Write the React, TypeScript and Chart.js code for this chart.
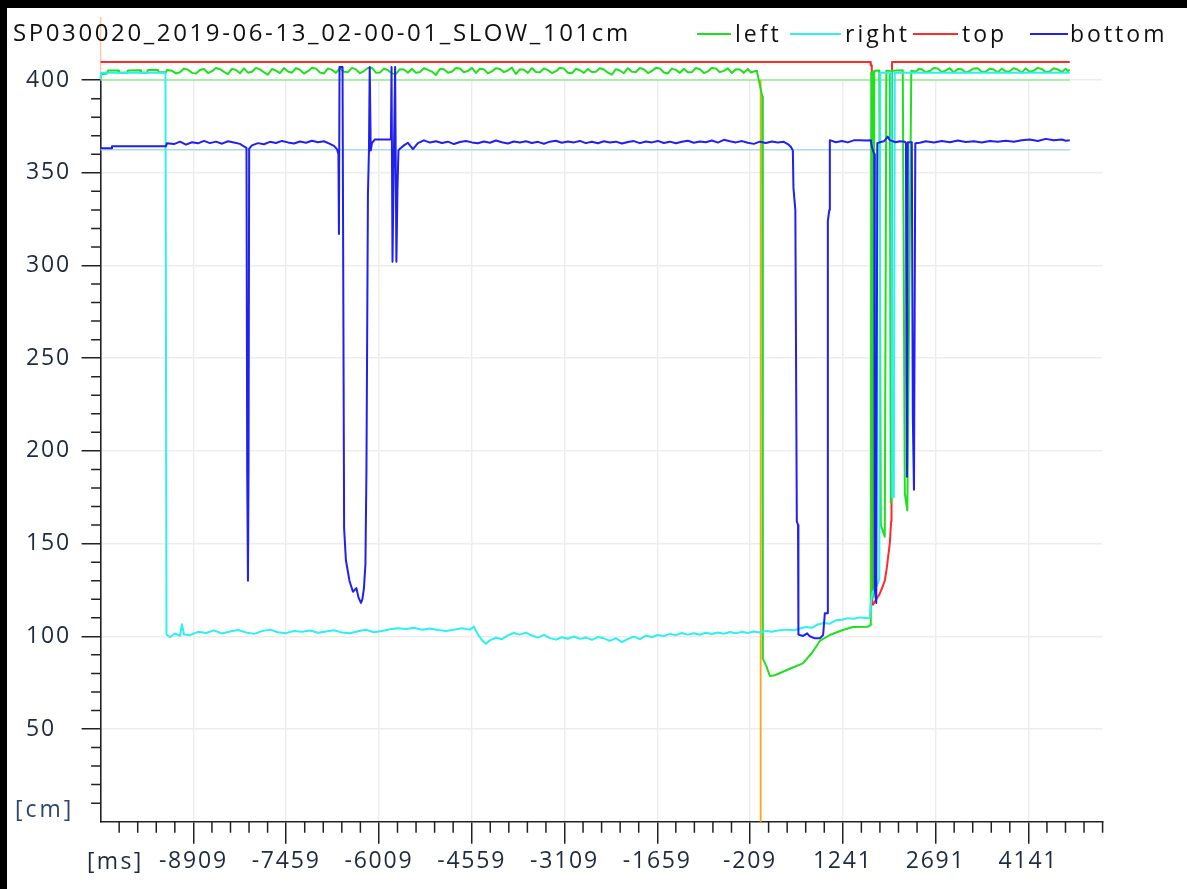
import React, { useEffect, useRef } from 'react';
import { Chart, registerables } from 'chart.js';

Chart.register(...registerables);

// ---------- data (time in ms, distance in cm) ----------
const chartTitle = 'SP030020_2019-06-13_02-00-01_SLOW_101cm';
const seriesNames = ['left', 'right', 'top', 'bottom'];

const xMin = -10359;
const xMax = 5301;
const xTickValues = [-8909, -7459, -6009, -4559, -3109, -1659, -209, 1241, 2691, 4141];
const xTickLabels = ['-8909', '-7459', '-6009', '-4559', '-3109', '-1659', '-209', '1241', '2691', '4141'];
const yTickValues = [50, 100, 150, 200, 250, 300, 350, 400];
const yTickLabels = ['50', '100', '150', '200', '250', '300', '350', '400'];
const xUnit = '[ms]';
const yUnit = '[cm]';

const leftData: [number, number][] = [
  [-10359, 401], [-10345, 403.2], [-10259, 403.5], [-10243, 405.2], [-10087, 405.2], [-10072, 404],
  [-9947, 404], [-9931, 405.2], [-9743, 405.3], [-9728, 404], [-9634, 404], [-9618, 405.5],
  [-9462, 405.4], [-9447, 404.2], [-9337, 404.2], [-9322, 405.5],
  [-9243, 405.0], [-9181, 403.6], [-9118, 404.2], [-9056, 406.2], [-8993, 405.6], [-8931, 403.9],
  [-8868, 403.5], [-8806, 405.4], [-8743, 406.0], [-8681, 403.8], [-8618, 404.8], [-8556, 406.5],
  [-8493, 405.9], [-8431, 404.4], [-8368, 403.2], [-8306, 406.1], [-8243, 405.4], [-8181, 403.7],
  [-8118, 406.3], [-8056, 404.0], [-7993, 404.5], [-7931, 406.6], [-7868, 405.8], [-7806, 404.2],
  [-7743, 402.9], [-7681, 406.0], [-7618, 405.1], [-7556, 403.8], [-7493, 406.5], [-7431, 404.6],
  [-7368, 404.0], [-7306, 406.4], [-7243, 405.6], [-7181, 403.5], [-7118, 404.8], [-7056, 406.7],
  [-6993, 406.2], [-6931, 404.1], [-6868, 403.6], [-6806, 406.3], [-6743, 405.5], [-6681, 403.9],
  [-6618, 406.4], [-6556, 404.5], [-6493, 404.3], [-6431, 406.6], [-6368, 405.8], [-6306, 403.7],
  [-6243, 404.9], [-6181, 406.5], [-6118, 406.6], [-6056, 404.0], [-5993, 404.1], [-5931, 406.2],
  [-5868, 405.3], [-5806, 403.6], [-5743, 403.4], [-5681, 405.9], [-5618, 405.7], [-5556, 404.0],
  [-5493, 406.1], [-5431, 403.9], [-5368, 404.4], [-5306, 406.4], [-5243, 405.5], [-5181, 404.6],
  [-5118, 402.8], [-5056, 406.0], [-4993, 405.9], [-4931, 404.0], [-4868, 404.6], [-4806, 406.5],
  [-4743, 406.3], [-4681, 404.2], [-4618, 405.0], [-4556, 406.6], [-4493, 403.9], [-4431, 406.1],
  [-4368, 405.8], [-4306, 403.6], [-4243, 404.7], [-4181, 406.4], [-4118, 406.0], [-4056, 404.3],
  [-3993, 405.2], [-3931, 406.7], [-3868, 403.3], [-3806, 405.8], [-3743, 405.6], [-3681, 403.9],
  [-3618, 406.5], [-3556, 404.4], [-3493, 404.2], [-3431, 406.3], [-3368, 405.4], [-3306, 403.8],
  [-3243, 404.8], [-3181, 406.6], [-3118, 406.2], [-3056, 404.0], [-2993, 403.7], [-2931, 406.1],
  [-2868, 405.3], [-2806, 403.9], [-2743, 406.0], [-2681, 404.4], [-2618, 404.5], [-2556, 406.4],
  [-2493, 405.7], [-2431, 404.0], [-2368, 402.9], [-2306, 405.9], [-2243, 405.2], [-2181, 403.7],
  [-2118, 406.4], [-2056, 404.5], [-1993, 404.4], [-1931, 406.5], [-1868, 405.8], [-1806, 403.8],
  [-1743, 404.9], [-1681, 406.6], [-1618, 406.3], [-1556, 404.1], [-1493, 403.6], [-1431, 406.2],
  [-1368, 405.5], [-1306, 403.9], [-1243, 406.1], [-1181, 404.2], [-1118, 404.3], [-1056, 406.5],
  [-993, 405.9], [-931, 403.8], [-868, 404.7], [-806, 406.6], [-743, 406.2], [-681, 404.3],
  [-618, 405.0], [-556, 406.4], [-493, 403.8], [-431, 405.9], [-368, 405.7], [-306, 403.9],
  [-243, 406.0], [-196, 404.1], [-150, 404.6], [-103, 405.0], [-72, 400], [-41, 395], [-17, 391],
  [-9, 88], [49, 83.6], [100, 78.6], [178, 79], [288, 80.6], [413, 82.5], [616, 85.4], [757, 91],
  [882, 97.5], [1038, 100.7], [1241, 103.4], [1397, 105], [1632, 105.2], [1671, 106], [1678, 120],
  [1686, 404], [1710, 404.5], [1717, 121], [1733, 405], [1811, 405.2], [1835, 160], [1897, 153.7],
  [1921, 405], [1975, 405], [1991, 172], [2007, 405], [2178, 405.3], [2210, 177], [2249, 168],
  [2311, 405], [2382, 404.5], [2428, 406.0], [2475, 405.8], [2537, 404.2], [2600, 404.9],
  [2662, 406.5], [2725, 406.3], [2787, 404.3], [2850, 405.2], [2912, 406.4], [2975, 404.1],
  [3037, 406.0], [3100, 405.9], [3162, 404.0], [3225, 405.0], [3287, 406.3], [3350, 406.4],
  [3412, 404.4], [3475, 404.6], [3537, 406.2], [3600, 405.7], [3662, 404.1], [3725, 406.2],
  [3787, 404.6], [3850, 404.8], [3912, 406.5], [3975, 405.6], [4037, 404.0], [4100, 406.3],
  [4162, 404.5], [4225, 405.1], [4287, 406.6], [4350, 406.0], [4412, 404.3], [4475, 404.7],
  [4537, 406.4], [4600, 405.8], [4662, 404.4], [4725, 406.1], [4756, 404.8], [4788, 405.5],
];

const rightData: [number, number][] = [
  [-10359, 400.5], [-10350, 403.9], [-9345, 403.9], [-9329, 101.0], [-9275, 99.5], [-9197, 101.5],
  [-9118, 100.2], [-9087, 106.5], [-9056, 101.0], [-8962, 100.6], [-8837, 102.4], [-8712, 101.8],
  [-8587, 103.2], [-8462, 101.5], [-8337, 102.6], [-8212, 103.4], [-8087, 102.1], [-7962, 101.3],
  [-7837, 102.8], [-7712, 103.6], [-7587, 102.2], [-7462, 101.7], [-7337, 102.9], [-7212, 102.4],
  [-7087, 103.1], [-6962, 101.9], [-6837, 102.6], [-6712, 103.3], [-6587, 102.0], [-6462, 101.6],
  [-6337, 102.7], [-6212, 103.5], [-6087, 102.2], [-5962, 102.9], [-5837, 103.8], [-5712, 104.4],
  [-5587, 103.9], [-5462, 104.6], [-5337, 103.5], [-5212, 104.2], [-5087, 103.4], [-4962, 102.8],
  [-4837, 103.5], [-4712, 104.3], [-4587, 103.6], [-4525, 105.2], [-4462, 101.0], [-4400, 98.0],
  [-4337, 96.0], [-4275, 97.8], [-4181, 99.2], [-4087, 98.4], [-3993, 100.5], [-3900, 101.8],
  [-3806, 100.9], [-3712, 102.0], [-3618, 100.4], [-3525, 99.3], [-3431, 100.8], [-3337, 99.0],
  [-3243, 98.2], [-3150, 99.5], [-3056, 98.7], [-2962, 99.9], [-2868, 98.6], [-2775, 99.4],
  [-2681, 98.1], [-2587, 99.6], [-2493, 98.9], [-2400, 97.5], [-2306, 99.0], [-2212, 96.8],
  [-2118, 98.6], [-2025, 99.8], [-1931, 98.5], [-1837, 100.3], [-1743, 99.6], [-1650, 100.7],
  [-1556, 100.1], [-1462, 101.3], [-1368, 100.6], [-1275, 101.8], [-1181, 100.9], [-1087, 101.6],
  [-993, 100.8], [-900, 101.9], [-806, 101.2], [-712, 102.0], [-618, 101.4], [-525, 102.3],
  [-431, 101.6], [-337, 102.4], [-243, 101.8], [-150, 102.6], [-56, 102.0], [38, 102.8],
  [131, 102.5], [225, 103.1], [350, 103.6], [475, 103.2], [569, 104.2], [663, 105.0],
  [757, 104.6], [850, 106.4], [944, 107.2], [1038, 106.8], [1132, 108.6], [1225, 108.9],
  [1319, 109.8], [1413, 109.5], [1507, 110.2], [1632, 109.8], [1663, 110.0], [1678, 118],
  [1710, 124], [1772, 127], [1811, 131], [1827, 404], [1999, 404], [2014, 175], [2038, 175],
  [2053, 404], [4788, 404],
];

const topData: [number, number][] = [
  [-10359, 409.8], [1671, 409.8], [1678, 408], [1694, 408], [1702, 117.5], [1714, 117],
  [1764, 120], [1819, 123], [1866, 127], [1897, 130], [1929, 137], [1949, 143], [1975, 150],
  [1996, 162], [2002, 176], [2010, 409.8], [4788, 409.8],
];

const bottomData: [number, number][] = [
  [-10359, 363.2], [-10189, 363.2], [-10181, 364.3], [-9337, 364.3], [-9322, 366], [-9212, 365.5],
  [-9118, 366.8], [-9025, 365.2], [-8931, 366.5], [-8837, 365.9], [-8743, 367.2], [-8650, 366.0],
  [-8556, 366.8], [-8462, 365.7], [-8368, 367.0], [-8275, 366.3], [-8181, 365.6], [-8118, 364.2],
  [-8079, 363.5], [-8068, 190], [-8056, 130], [-8047, 190], [-8037, 363], [-7993, 364.8],
  [-7900, 366.0], [-7806, 365.4], [-7712, 366.7], [-7618, 366.1], [-7525, 367.2], [-7431, 366.4],
  [-7337, 365.8], [-7243, 366.9], [-7150, 366.2], [-7056, 367.3], [-6962, 366.5], [-6868, 367.0],
  [-6775, 365.6], [-6712, 364.5], [-6665, 362.8], [-6642, 360], [-6634, 317], [-6625, 407],
  [-6578, 407], [-6553, 158], [-6525, 141], [-6470, 130], [-6415, 124], [-6361, 126], [-6329, 121],
  [-6290, 118], [-6267, 120], [-6243, 126], [-6220, 139], [-6204, 190], [-6181, 338], [-6165, 362],
  [-6153, 407], [-6137, 362], [-6118, 366], [-6072, 368], [-5822, 368], [-5812, 407], [-5797, 302],
  [-5781, 345], [-5756, 407], [-5736, 302], [-5720, 340], [-5704, 362], [-5681, 363], [-5618, 364.8],
  [-5556, 366.2], [-5478, 362.8], [-5400, 366.0], [-5306, 367.5], [-5212, 366.3], [-5118, 367.0],
  [-5025, 366.1], [-4931, 366.8], [-4837, 365.5], [-4743, 366.6], [-4650, 367.1], [-4556, 366.4],
  [-4462, 365.9], [-4368, 366.9], [-4275, 366.2], [-4181, 367.4], [-4087, 366.5], [-3993, 365.8],
  [-3900, 366.9], [-3806, 366.3], [-3712, 367.0], [-3618, 366.1], [-3525, 366.7], [-3431, 365.7],
  [-3337, 366.8], [-3243, 367.3], [-3150, 366.2], [-3056, 366.9], [-2962, 366.4], [-2868, 367.2],
  [-2775, 366.0], [-2681, 366.7], [-2587, 365.9], [-2493, 367.0], [-2400, 366.3], [-2306, 366.8],
  [-2212, 365.8], [-2118, 366.6], [-2025, 367.1], [-1931, 366.0], [-1837, 366.9], [-1743, 366.4],
  [-1650, 367.2], [-1556, 366.1], [-1462, 366.8], [-1368, 365.9], [-1275, 366.7], [-1181, 367.3],
  [-1087, 366.2], [-993, 366.9], [-900, 366.5], [-806, 367.4], [-712, 366.3], [-618, 367.8],
  [-525, 367.0], [-431, 366.4], [-337, 367.1], [-243, 366.2], [-150, 365.6], [-56, 366.8],
  [38, 366.1], [131, 366.9], [225, 366.3], [319, 366.7], [381, 365.5], [428, 364], [460, 362],
  [469, 342], [499, 330], [522, 162], [541, 160], [547, 101], [569, 100.7], [621, 100.2],
  [683, 101.6], [725, 100], [803, 98.9], [882, 98.9], [933, 100.7], [960, 112.4], [996, 112.4],
  [1007, 324], [1030, 330], [1038, 367.6], [1132, 366.5], [1225, 367.2], [1319, 366.4],
  [1413, 367.5], [1507, 367.5], [1600, 367.4], [1678, 367.6], [1694, 364], [1733, 360], [1741, 125],
  [1764, 118], [1780, 366], [1819, 366.5], [1882, 367.0], [1944, 369.5], [1975, 367.6], [2069, 366.5],
  [2132, 367], [2210, 366.8], [2228, 366], [2236, 240], [2244, 186], [2257, 366.5], [2319, 366.5],
  [2335, 218], [2353, 179], [2374, 366], [2444, 366.2], [2538, 367.0], [2663, 366.4], [2788, 367.2],
  [2913, 366.5], [3038, 367.4], [3163, 366.6], [3288, 367.0], [3413, 366.3], [3538, 367.2],
  [3663, 366.8], [3788, 367.3], [3913, 366.7], [4038, 367.5], [4163, 368.0], [4288, 367.2],
  [4413, 368.3], [4538, 367.6], [4663, 368.0], [4725, 367.3], [4788, 367.5],
];

const cursorData: [number, number][] = [[-43, 0], [-43, 400]];
const originCursorData: [number, number][] = [[-10359, 400], [-10359, 434]];
const leftRefData: [number, number][] = [[-10359, 400], [4788, 400]];
const bottomRefData: [number, number][] = [[-10359, 362.5], [4788, 362.5]];

// ---------- styles ----------
const COLORS: Record<string, string> = {
  left: '#1fe01f',
  right: '#2ef0f0',
  top: '#ff2a2a',
  bottom: '#2020f0',
};
const FONT = "'Open Sans', 'DejaVu Sans', sans-serif";
const AXIS_COLOR = '#222222';
const LABEL_COLOR = '#1e2a3e';

const toXY = (arr: [number, number][]) => arr.map(([x, y]) => ({ x, y }));

const decorPlugin = {
  id: 'decor',
  beforeDraw(chart: any) {
    const { ctx, width, height } = chart;
    ctx.save();
    ctx.fillStyle = '#000000';
    ctx.fillRect(0, 0, width, height);
    ctx.fillStyle = '#ffffff';
    ctx.fillRect(7, 8, width - 7, height - 8);
    ctx.restore();
    (ctx as any).letterSpacing = '1.8px';
  },
  afterDraw(chart: any) {
    const { ctx } = chart;
    const xs = chart.scales.x;
    const ys = chart.scales.y;
    ctx.save();
    // minor ticks
    ctx.strokeStyle = AXIS_COLOR;
    ctx.lineWidth = 1.5;
    ctx.beginPath();
    for (let v = 10; v < 400; v += 10) {
      if (v % 50 === 0) continue;
      const py = ys.getPixelForValue(v);
      ctx.moveTo(xs.left - 9.5, py);
      ctx.lineTo(xs.left, py);
    }
    for (let k = 1; k <= 54; k++) {
      if (k % 5 === 0 && k <= 50) continue;
      const px = xs.getPixelForValue(xMin + 290 * k);
      ctx.moveTo(px, ys.bottom);
      ctx.lineTo(px, ys.bottom + 11);
    }
    ctx.stroke();

    // title
    ctx.textBaseline = 'middle';
    ctx.textAlign = 'left';
    ctx.fillStyle = '#111111';
    (ctx as any).letterSpacing = '2.6px';
    ctx.font = `24px ${FONT}`;
    ctx.fillText(chartTitle, 13, 34);

    // legend
    const legendLines = [[697, 731], [790, 841], [913, 958], [1030, 1068]];
    const legendText = [735, 845, 962, 1070];
    (ctx as any).letterSpacing = '3px';
    ctx.font = `23px ${FONT}`;
    seriesNames.forEach((name, i) => {
      ctx.strokeStyle = COLORS[name];
      ctx.lineWidth = 2;
      ctx.beginPath();
      ctx.moveTo(legendLines[i][0], 34);
      ctx.lineTo(legendLines[i][1], 34);
      ctx.stroke();
      ctx.fillStyle = '#111111';
      ctx.fillText(name, legendText[i], 35);
    });

    // units
    ctx.fillStyle = '#2c4670';
    (ctx as any).letterSpacing = '3px';
    ctx.fillText(yUnit, 15, 810);
    ctx.fillStyle = LABEL_COLOR;
    (ctx as any).letterSpacing = '2.3px';
    ctx.fillText(xUnit, 87, 862);
    ctx.restore();
  },
};

function line(label: string, data: [number, number][], color: string, width = 2) {
  return {
    label,
    data: toXY(data),
    borderColor: color,
    backgroundColor: color,
    borderWidth: width,
    pointRadius: 0,
    tension: 0,
    fill: false,
    clip: false as any,
    borderJoinStyle: 'round' as const,
  };
}

export default function App() {
  const ref = useRef<HTMLCanvasElement>(null);
  useEffect(() => {
    document.body.style.margin = '0';
    const chart = new Chart(ref.current as HTMLCanvasElement, {
      type: 'line',
      data: {
        datasets: [
          line('bottom', bottomData, COLORS.bottom),
          line('right', rightData, COLORS.right),
          line('left', leftData, COLORS.left),
          line('top', topData, COLORS.top),
          line('cursor', cursorData, '#ffa31a', 1.8),
          line('cursor0', originCursorData, 'rgba(255,150,90,0.55)', 1.4),
          line('leftRef', leftRefData, '#90ee90', 1.5),
          line('bottomRef', bottomRefData, '#add8e6', 1.5),
        ] as any,
      },
      options: {
        animation: false,
        responsive: true,
        maintainAspectRatio: false,
        layout: { padding: { left: 26, top: 80.1, right: 84.4, bottom: 0 } },
        plugins: { legend: { display: false }, tooltip: { enabled: false }, title: { display: false } },
        events: [],
        scales: {
          x: {
            type: 'linear',
            min: xMin,
            max: xMax,
            afterBuildTicks: (s: any) => {
              s.ticks = xTickValues.map((v) => ({ value: v }));
            },
            afterFit: (s: any) => {
              s.height = 67.3;
            },
            grid: { color: '#ededed', lineWidth: 1.5, tickColor: AXIS_COLOR, tickWidth: 1.5, tickLength: 22 },
            border: { display: true, color: AXIS_COLOR, width: 1.6 },
            ticks: {
              autoSkip: false,
              maxRotation: 0,
              padding: 4,
              color: LABEL_COLOR,
              font: { family: FONT, size: 23 },
              callback: (_v: any, i: number) => xTickLabels[i] ?? '',
            },
          },
          y: {
            type: 'linear',
            min: 0,
            max: 400,
            afterBuildTicks: (s: any) => {
              s.ticks = yTickValues.map((v) => ({ value: v }));
            },
            afterFit: (s: any) => {
              s.width = 74.6;
            },
            grid: { color: '#ededed', lineWidth: 1.5, tickColor: AXIS_COLOR, tickWidth: 1.5, tickLength: 19 },
            border: { display: true, color: AXIS_COLOR, width: 1.6 },
            ticks: {
              crossAlign: 'far',
              padding: 0,
              color: LABEL_COLOR,
              font: { family: FONT, size: 23 },
              callback: (_v: any, i: number) => yTickLabels[i] ?? '',
            },
          },
        },
      } as any,
      plugins: [decorPlugin],
    });
    return () => chart.destroy();
  }, []);
  return (
    <div style={{ position: 'fixed', left: 0, top: 0, width: 1187, height: 889 }}>
      <canvas ref={ref} />
    </div>
  );
}
